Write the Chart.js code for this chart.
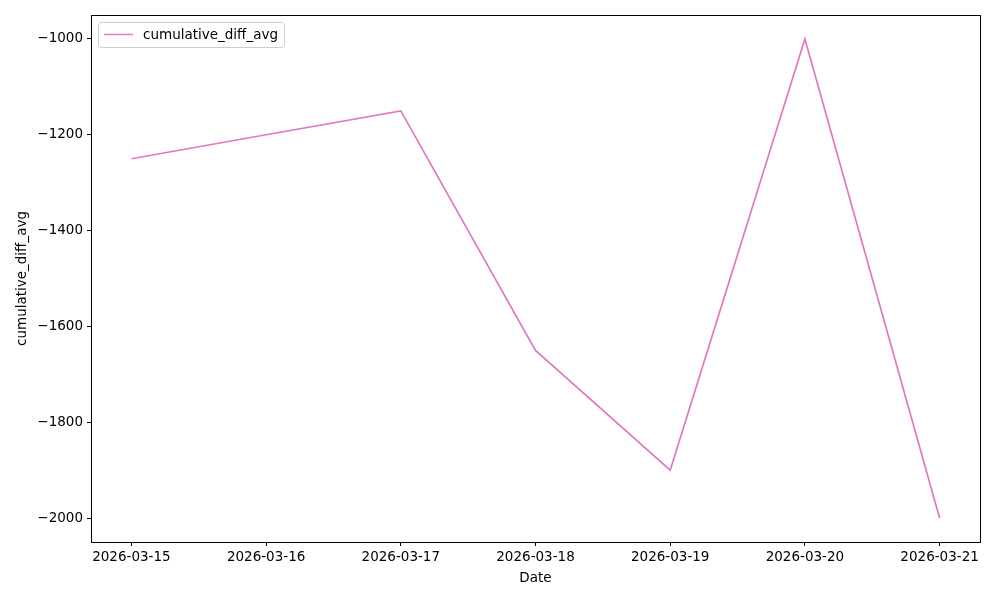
<!DOCTYPE html>
<html>
<head>
<meta charset="utf-8">
<script src="https://cdn.jsdelivr.net/npm/chart.js@4.4.1/dist/chart.umd.min.js"></script>
<style>
  html, body { margin: 0; padding: 0; background: #fff; }
  #wrap { width: 1000px; height: 600px; }
</style>
</head>
<body>
<div id="wrap"><canvas id="chart" width="1000" height="600"></canvas></div>
<script>
// data
const dates = ['2026-03-15', '2026-03-16', '2026-03-17', '2026-03-18', '2026-03-19', '2026-03-20', '2026-03-21'];
const cumulativeDiffAvg = [-1250, -1200, -1150, -1650, -1900, -1000, -2000];
const yTicks = [-2000, -1800, -1600, -1400, -1200, -1000];
const seriesName = 'cumulative_diff_avg';

const FONT = 'DejaVu Sans';
const SIZE = 13.5;
const PINK = '#e377c2';
const minus = s => String(s).replace(/-/g, '\u2212');

// frame around the plot area + legend inside, matplotlib style
const framePlugin = {
    id: 'frame',
    afterDraw(chart) {
        const { ctx, chartArea: a } = chart;
        ctx.save();
        ctx.strokeStyle = '#000';
        ctx.lineWidth = 1;
        ctx.strokeRect(Math.round(a.left) + 0.5, Math.round(a.top) + 0.5,
            Math.round(a.right - a.left), Math.round(a.bottom - a.top));

        // legend
        ctx.font = `${SIZE}px "${FONT}"`;
        const tw = ctx.measureText(seriesName).width;
        const x = a.left + 7, y = a.top + 7;
        const w = 45 + tw + 6, h = 25;
        ctx.fillStyle = 'rgba(255,255,255,0.8)';
        ctx.strokeStyle = '#cccccc';
        ctx.beginPath();
        ctx.roundRect(x + 0.5, y + 0.5, w, h, 3);
        ctx.fill();
        ctx.stroke();
        ctx.strokeStyle = PINK;
        ctx.lineWidth = 1.5;
        ctx.beginPath();
        ctx.moveTo(x + 6, y + 12.5);
        ctx.lineTo(x + 35, y + 12.5);
        ctx.stroke();
        ctx.fillStyle = '#000';
        ctx.textBaseline = 'middle';
        ctx.fillText(seriesName, x + 45, y + 13);
        ctx.restore();
    }
};

new Chart(document.getElementById('chart').getContext('2d'), {
    type: 'line',
    data: {
        datasets: [{
            label: seriesName,
            data: cumulativeDiffAvg.map((v, i) => ({ x: i, y: v })),
            borderColor: PINK,
            borderWidth: 1.7,
            pointRadius: 0,
            tension: 0,
            fill: false
        }]
    },
    options: {
        responsive: false,
        animation: false,
        layout: { padding: { top: 15, right: 20, left: 0, bottom: 0 } },
        plugins: {
            legend: { display: false },
            tooltip: { enabled: false }
        },
        scales: {
            x: {
                type: 'linear',
                min: -0.3,
                max: dates.length - 1 + 0.3,
                afterBuildTicks: axis => { axis.ticks = dates.map((d, i) => ({ value: i })); },
                afterFit: axis => { axis.height = 58; },
                ticks: {
                    callback: v => dates[v],
                    color: '#000',
                    font: { family: FONT, size: SIZE },
                    padding: 3,
                    maxRotation: 0,
                    autoSkip: false
                },
                grid: { display: true, drawOnChartArea: false, drawTicks: true, tickLength: 4, color: '#000' },
                border: { display: true, color: '#000' },
                title: {
                    display: true,
                    text: 'Date',
                    color: '#000',
                    font: { family: FONT, size: SIZE },
                    padding: { top: 2, bottom: 13 }
                }
            },
            y: {
                min: -2050,
                max: -950,
                afterBuildTicks: axis => { axis.ticks = yTicks.map(v => ({ value: v })); },
                afterFit: axis => { axis.width = 91; },
                ticks: {
                    callback: v => minus(v),
                    color: '#000',
                    font: { family: FONT, size: SIZE },
                    padding: 4
                },
                grid: { display: true, drawOnChartArea: false, drawTicks: true, tickLength: 4, color: '#000' },
                border: { display: true, color: '#000' },
                title: {
                    display: true,
                    text: seriesName,
                    color: '#000',
                    font: { family: FONT, size: SIZE },
                    padding: { top: 14, bottom: 6 }
                }
            }
        }
    },
    plugins: [framePlugin]
});
</script>
</body>
</html>
